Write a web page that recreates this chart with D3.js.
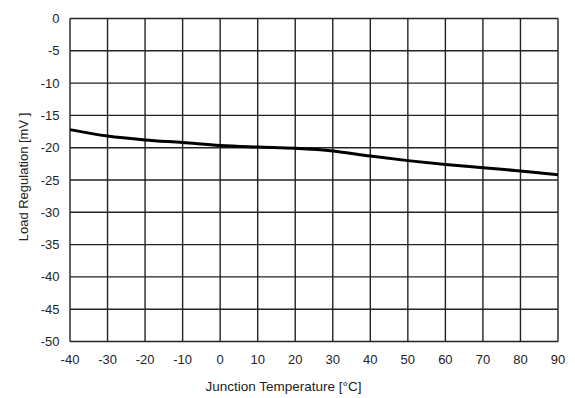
<!DOCTYPE html>
<html><head><meta charset="utf-8">
<script src="https://cdn.jsdelivr.net/npm/d3@7"></script>
<style>body{margin:0;background:#fff}svg{display:block}text{font-family:"Liberation Sans",Arial,sans-serif;fill:#222}</style>
</head><body>
<svg id="c" width="575" height="398"></svg>
<script>
const temps = [-40,-30,-20,-10,0,10,20,30,40,50,60,70,80,90];
const loadReg = [-17.2,-18.2,-18.8,-19.2,-19.65,-19.9,-20.1,-20.5,-21.3,-22.0,-22.6,-23.1,-23.6,-24.2];
const xTicks = [-40,-30,-20,-10,0,10,20,30,40,50,60,70,80,90];
const yTicks = [0,-5,-10,-15,-20,-25,-30,-35,-40,-45,-50];
const xTitle = "Junction Temperature [°C]";
const yTitle = "Load Regulation [mV ]";

const svg = d3.select("#c");
const L=70, R=558, T=18.5, B=341.5;
const x = d3.scaleLinear().domain([-40,90]).range([L,R]);
const y = d3.scaleLinear().domain([-50,0]).range([B,T]);

const g = svg.append("g");
g.selectAll(".vx").data(xTicks).join("line")
 .attr("x1",d=>x(d)).attr("x2",d=>x(d)).attr("y1",T).attr("y2",B)
 .attr("stroke","#222").attr("stroke-width",1.4);
g.selectAll(".hy").data(yTicks).join("line")
 .attr("y1",d=>y(d)).attr("y2",d=>y(d)).attr("x1",L).attr("x2",R)
 .attr("stroke","#222").attr("stroke-width",1.4);

svg.append("g").selectAll("text").data(xTicks).join("text")
 .attr("x",d=>x(d)).attr("y",B+22.5).attr("text-anchor","middle")
 .attr("font-size",13).text(d=>d);
svg.append("g").selectAll("text").data(yTicks).join("text")
 .attr("x",L-10.5).attr("y",d=>y(d)+4.5).attr("text-anchor","end")
 .attr("font-size",13).text(d=>d);

svg.append("text").attr("x",283.5).attr("y",391).attr("text-anchor","middle")
 .attr("font-size",13.5).text(xTitle);
svg.append("text").attr("transform",`translate(28,177) rotate(-90)`)
 .attr("text-anchor","middle").attr("font-size",13).text(yTitle);

const line = d3.line().x((d,i)=>x(temps[i])).y(d=>y(d)).curve(d3.curveCatmullRom.alpha(0.5));
svg.append("path").datum(loadReg).attr("d",line).attr("fill","none")
 .attr("stroke","#000").attr("stroke-width",3);
</script>
</body></html>
